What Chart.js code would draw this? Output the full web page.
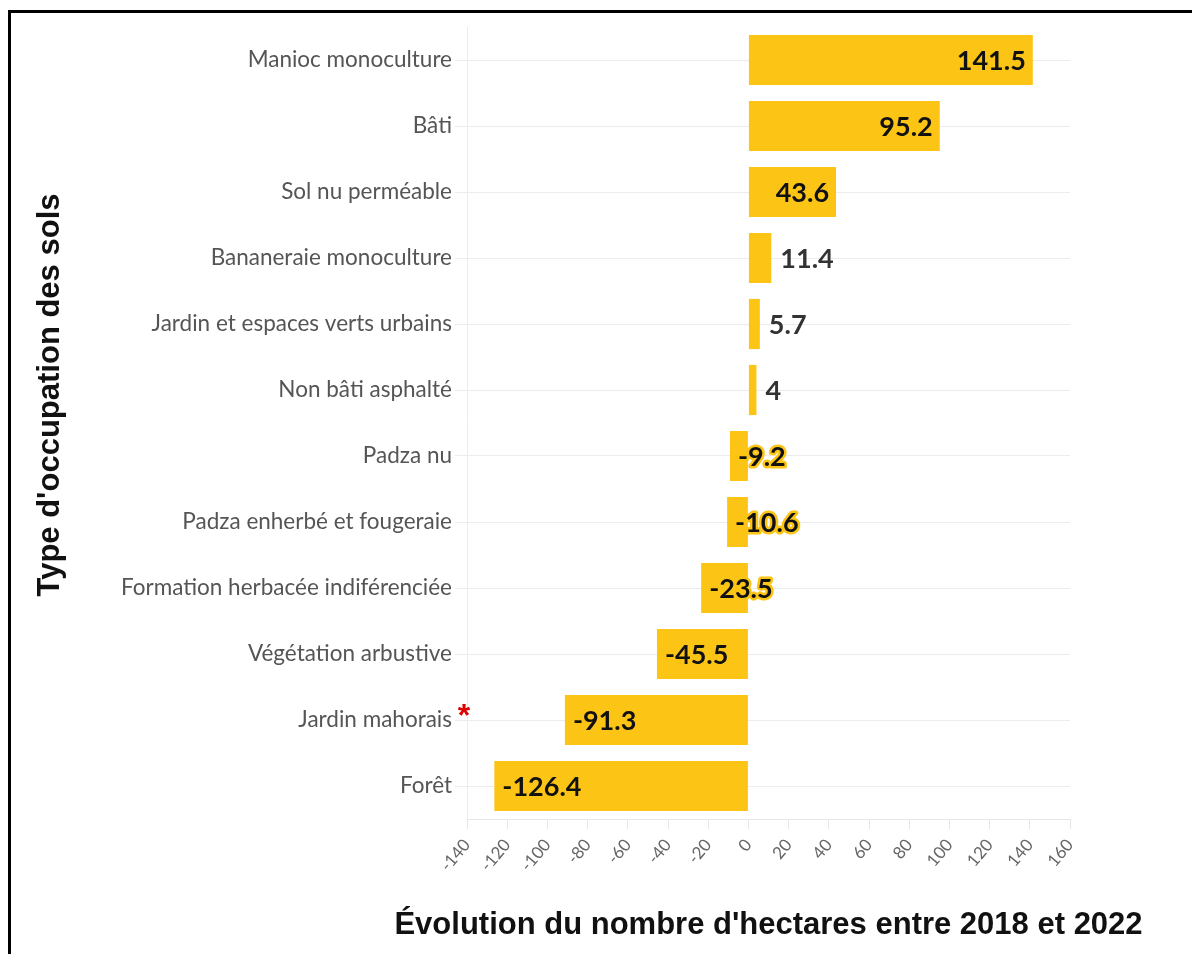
<!DOCTYPE html>
<html>
<head>
<meta charset="utf-8">
<script src="https://cdn.jsdelivr.net/npm/chart.js@4.4.1/dist/chart.umd.min.js"></script>
<style>
  html, body { margin: 0; padding: 0; background: #fff; }
  canvas { display: block; }
</style>
</head>
<body>
<canvas id="chart" width="1192" height="954"></canvas>
<script>
const categories = [
  "Manioc monoculture",
  "Bâti",
  "Sol nu perméable",
  "Bananeraie monoculture",
  "Jardin et espaces verts urbains",
  "Non bâti asphalté",
  "Padza nu",
  "Padza enherbé et fougeraie",
  "Formation herbacée indiférenciée",
  "Végétation arbustive",
  "Jardin mahorais",
  "Forêt"
];
const hectares = [141.5, 95.2, 43.6, 11.4, 5.7, 4, -9.2, -10.6, -23.5, -45.5, -91.3, -126.4];
const xMin = -140;
const xMax = 160;
const xStep = 20;
const markedCategory = "Jardin mahorais";
const xTitle = "Évolution du nombre d'hectares entre 2018 et 2022";
const yTitle = "Type d'occupation des sols";

const yellow = "#fcc516";

// black frame around the picture
const framePlugin = {
  id: "frame",
  beforeDraw(chart) {
    const ctx = chart.ctx;
    ctx.save();
    ctx.fillStyle = "#fff";
    ctx.fillRect(0, 0, chart.width, chart.height);
    ctx.strokeStyle = "#000";
    ctx.lineWidth = 3;
    ctx.beginPath();
    ctx.moveTo(9.5, chart.height);
    ctx.lineTo(9.5, 11.5);
    ctx.lineTo(chart.width, 11.5);
    ctx.stroke();
    ctx.restore();
  }
};

// value labels, axis titles and the red asterisk
const labelPlugin = {
  id: "valueLabels",
  afterDatasetsDraw(chart) {
    const ctx = chart.ctx;
    const meta = chart.getDatasetMeta(0);
    ctx.save();
    ctx.font = "bold 27px Lato";
    ctx.textBaseline = "middle";
    meta.data.forEach((bar, i) => {
      const v = hectares[i];
      const txt = String(v);
      if (v >= 40) {
        ctx.textAlign = "right";
        ctx.fillStyle = "#111";
        ctx.fillText(txt, bar.x - 7, bar.y + 1);
      } else if (v >= 0) {
        ctx.textAlign = "left";
        ctx.fillStyle = "#333";
        ctx.fillText(txt, bar.x + 9, bar.y + 1);
      } else {
        ctx.textAlign = "left";
        ctx.lineJoin = "round";
        ctx.lineWidth = 5;
        ctx.strokeStyle = yellow;
        ctx.strokeText(txt, bar.x + 8, bar.y + 1);
        ctx.fillStyle = "#111";
        ctx.fillText(txt, bar.x + 8, bar.y + 1);
      }
    });

    const yScale = chart.scales.y;
    const idx = categories.indexOf(markedCategory);
    ctx.font = "bold 32px 'Liberation Sans'";
    ctx.fillStyle = "#e00000";
    ctx.textAlign = "center";
    ctx.fillText("*", yScale.right - 3, yScale.getPixelForValue(idx) - 3);

    ctx.font = "bold 31px 'Liberation Sans'";
    ctx.fillStyle = "#111";
    const area = chart.chartArea;
    ctx.fillText(xTitle, (area.left + area.right) / 2, 925);

    ctx.translate(50, 395);
    ctx.rotate(-Math.PI / 2);
    ctx.fillText(yTitle, 0, 0);
    ctx.restore();
  }
};

new Chart(document.getElementById("chart"), {
  type: "bar",
  data: {
    labels: categories,
    datasets: [{
      data: hectares,
      backgroundColor: yellow,
      borderWidth: 0,
      barPercentage: 0.76,
      categoryPercentage: 1
    }]
  },
  options: {
    indexAxis: "y",
    responsive: false,
    animation: false,
    layout: { padding: { top: 27, right: 122, bottom: 12, left: 0 } },
    plugins: {
      legend: { display: false },
      tooltip: { enabled: false }
    },
    scales: {
      x: {
        min: xMin,
        max: xMax,
        ticks: {
          stepSize: xStep,
          minRotation: 50,
          maxRotation: 50,
          color: "#666",
          font: { family: "Lato", size: 17 },
          padding: 6
        },
        grid: {
          drawOnChartArea: false,
          drawTicks: true,
          tickLength: 10,
          color: "#e6e6e6"
        },
        border: { color: "#e6e6e6" },
        afterFit(scale) {
          scale.height = 123;
          scale.paddingLeft = 0;
          scale.paddingRight = 0;
        }
      },
      y: {
        ticks: {
          color: "#555",
          font: { family: "Lato", size: 22.5 },
          padding: 3
        },
        grid: {
          color: "#ececec",
          tickLength: 12,
          offset: false
        },
        border: { color: "#ececec" },
        afterFit(scale) {
          scale.width = 467;
          scale.paddingTop = 0;
          scale.paddingBottom = 0;
        }
      }
    }
  },
  plugins: [framePlugin, labelPlugin]
});
</script>
</body>
</html>
